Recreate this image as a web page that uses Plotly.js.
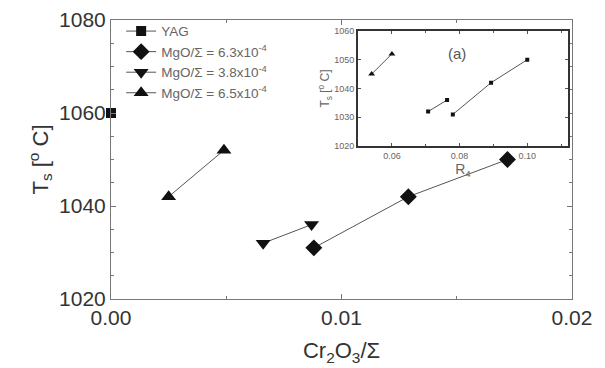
<!DOCTYPE html>
<html>
<head>
<meta charset="utf-8">
<script src="https://cdn.plot.ly/plotly-3.0.1.min.js"></script>
<style>html,body{margin:0;padding:0;background:#fff}#chart{width:605px;height:368px}</style>
</head>
<body>
<div id="chart"></div>
<script>
// Main plot data (Cr2O3/Σ vs Ts)
const yagX = [0.0];
const yagY = [1060];
const mgoHighX = [0.0088, 0.0129, 0.0172];
const mgoHighY = [1031, 1042, 1050];
const mgoMidX = [0.0066, 0.0087];
const mgoMidY = [1032, 1036];
const mgoLowX = [0.0025, 0.0049];
const mgoLowY = [1042, 1052];
const legendNames = ["YAG", "MgO/Σ = 6.3x10<sup>-4</sup>", "MgO/Σ = 3.8x10<sup>-4</sup>", "MgO/Σ = 6.5x10<sup>-4</sup>"];
const xTickVals = [0.0, 0.01, 0.02];
const xTickText = ["0.00", "0.01", "0.02"];
const yTickVals = [1020, 1040, 1060, 1080];

// Inset data (R4 vs Ts)
const insetLowX = [0.054, 0.060];
const insetLowY = [1045, 1052];
const insetMidX = [0.0707, 0.0763];
const insetMidY = [1032, 1036];
const insetHighX = [0.078, 0.0893, 0.100];
const insetHighY = [1031, 1042, 1050];
const insetXTicks = [0.06, 0.08, 0.10];
const insetXText = ["0.06", "0.08", "0.10"];
const insetYTicks = [1020, 1030, 1040, 1050, 1060];

const lineStyle = {color: '#555', width: 1};
const traces = [
  {x: yagX, y: yagY, name: legendNames[0], mode: 'lines+markers', line: lineStyle,
   marker: {symbol: 'square', size: 10, color: '#111'}, cliponaxis: false},
  {x: mgoHighX, y: mgoHighY, name: legendNames[1], mode: 'lines+markers', line: lineStyle,
   marker: {symbol: 'diamond', size: 13, color: '#111'}},
  {x: mgoMidX, y: mgoMidY, name: legendNames[2], mode: 'lines+markers', line: lineStyle,
   marker: {symbol: 'triangle-down', size: 13, color: '#111'}},
  {x: mgoLowX, y: mgoLowY, name: legendNames[3], mode: 'lines+markers', line: lineStyle,
   marker: {symbol: 'triangle-up', size: 13, color: '#111'}},
  {x: insetLowX, y: insetLowY, xaxis: 'x2', yaxis: 'y2', mode: 'lines+markers', showlegend: false,
   line: {color: '#555', width: 1}, marker: {symbol: 'triangle-up', size: 6, color: '#111'}},
  {x: insetMidX, y: insetMidY, xaxis: 'x2', yaxis: 'y2', mode: 'lines+markers', showlegend: false,
   line: {color: '#555', width: 1}, marker: {symbol: 'square', size: 4, color: '#111'}},
  {x: insetHighX, y: insetHighY, xaxis: 'x2', yaxis: 'y2', mode: 'lines+markers', showlegend: false,
   line: {color: '#555', width: 1}, marker: {symbol: 'square', size: 4, color: '#111'}}
];

const layout = {
  width: 605, height: 368,
  margin: {l: 111, r: 33, t: 20, b: 69},
  paper_bgcolor: '#fff', plot_bgcolor: '#fff',
  font: {family: 'Liberation Sans, Arial, sans-serif', color: '#333'},
  showlegend: true,
  legend: {x: 0.022, y: 1.015, xanchor: 'left', yanchor: 'top', bgcolor: 'rgba(0,0,0,0)',
           font: {size: 13.5, color: '#666'}, tracegroupgap: 0},
  xaxis: {
    domain: [0, 1], range: [0, 0.02], tickvals: xTickVals, ticktext: xTickText,
    showline: true, linecolor: '#777', linewidth: 1, mirror: 'ticks',
    ticks: 'inside', ticklen: 5, tickcolor: '#777', showgrid: false, zeroline: false,
    minor: {dtick: 0.005, tick0: 0, ticks: 'inside', ticklen: 3, tickcolor: '#777', showgrid: false},
    tickfont: {size: 21, color: '#333'},
    title: {text: 'Cr<sub>2</sub>O<sub>3</sub>/Σ', font: {size: 22, color: '#333'}, standoff: 14}
  },
  yaxis: {
    domain: [0, 1], range: [1020, 1080], tickvals: yTickVals,
    showline: true, linecolor: '#777', linewidth: 1, mirror: 'ticks',
    ticks: 'inside', ticklen: 5, tickcolor: '#777', showgrid: false, zeroline: false,
    minor: {dtick: 5, tick0: 1020, ticks: 'inside', ticklen: 3, tickcolor: '#777', showgrid: false},
    tickfont: {size: 21, color: '#333'},
    title: {text: 'T<sub>s</sub> [<sup>o</sup> C]', font: {size: 22, color: '#333'}, standoff: 4}
  },
  xaxis2: {
    domain: [0.536, 0.991], anchor: 'y2', range: [0.05, 0.112],
    tickvals: insetXTicks, ticktext: insetXText,
    showline: true, linecolor: '#333', linewidth: 2, mirror: 'ticks',
    ticks: 'inside', ticklen: 3, tickcolor: '#555', showgrid: false, zeroline: false,
    minor: {dtick: 0.01, tick0: 0.05, ticks: 'inside', ticklen: 2, tickcolor: '#555', showgrid: false},
    tickfont: {size: 9, color: '#666'},
    title: {text: 'R<sub>4</sub>', font: {size: 14, color: '#666'}, standoff: 2}
  },
  yaxis2: {
    domain: [0.548, 0.961], anchor: 'x2', range: [1020, 1060], tickvals: insetYTicks,
    showline: true, linecolor: '#333', linewidth: 2, mirror: 'ticks',
    ticks: 'inside', ticklen: 3, tickcolor: '#555', showgrid: false, zeroline: false,
    tickfont: {size: 9, color: '#666'},
    title: {text: 'T<sub>s</sub> [<sup>o</sup> C]', font: {size: 12, color: '#666'}, standoff: 2}
  },
  annotations: [
    {text: '(a)', xref: 'x2', yref: 'y2', x: 0.0793, y: 1052, showarrow: false,
     font: {size: 15, color: '#555'}}
  ]
};

Plotly.newPlot('chart', traces, layout, {displayModeBar: false, staticPlot: true});
</script>
</body>
</html>
